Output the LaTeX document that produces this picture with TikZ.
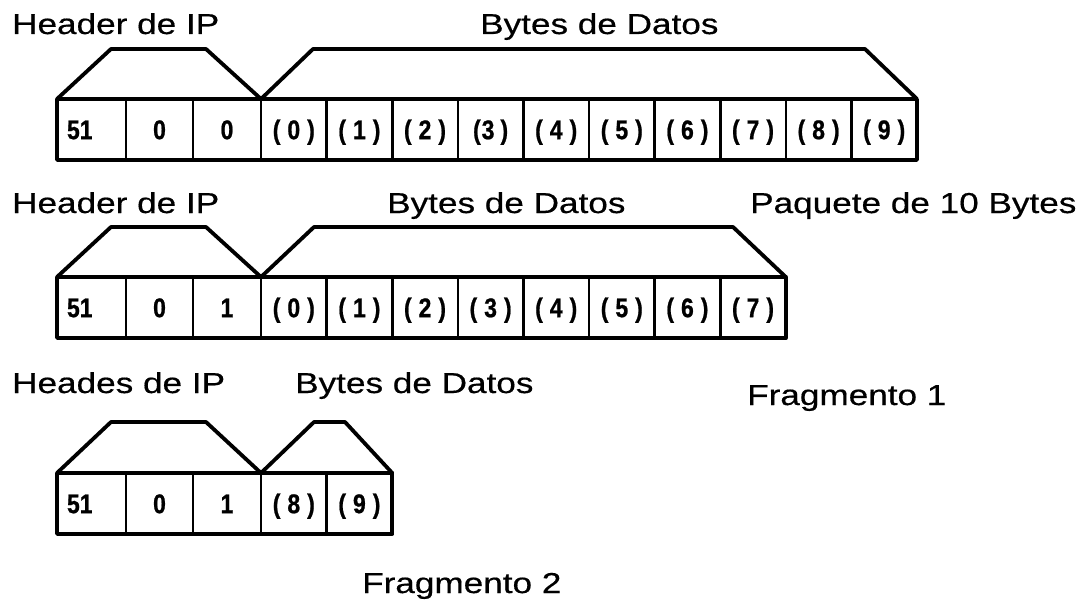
\documentclass[tikz,border=0pt]{standalone}
\usepackage{fontspec}
\setmainfont{Liberation Sans}
\newfontfamily\lblfont{Liberation Sans}[FakeStretch=1.22,FakeBold=0.5]
\newfontfamily\cellfont{Liberation Sans Bold}[FakeStretch=0.85,FakeBold=0.8]
\newcommand\celllab[1]{(\hspace{7pt}#1\hspace{7pt})}
\begin{document}
\begin{tikzpicture}[x=1pt,y=-1pt,
  cell/.style={draw, line width=2.6pt, inner sep=0pt, outer sep=0pt,
    minimum height=61pt, text height=19.3pt, text depth=0pt,
    font=\cellfont\fontsize{27}{27}\selectfont},
  firstcell/.style={cell, minimum width=69pt, text width=49pt, align=left},
  frame/.style={line width=3.8pt, line join=round},
  lbl/.style={anchor=base west, inner sep=0pt,
    font=\lblfont\fontsize{28.8}{30}\selectfont}]
\fill[white] (0,0) rectangle (1087,605);
\useasboundingbox (0,0) rectangle (1087,605);

% ---------- Row 1 ----------
\node[lbl] (t1a) at (12,34) {Header de IP};
\node[lbl] (t1b) at (480,34) {Bytes de Datos};
\node[firstcell] (r1h1) at (91.5,129.5) {51};
\node[cell, minimum width=67pt] (r1h2) at (159.5,129.5) {0};
\node[cell, minimum width=68pt] (r1h3) at (227,129.5) {0};
\foreach \k in {0,...,9}{
  \pgfmathsetmacro\cx{293.8+65.6*\k}
  \ifnum\k=3
    \node[cell, minimum width=65.6pt] (r1d\k) at (\cx,129.5) {(\hspace{1pt}3\hspace{6pt})\hspace{14pt}};
  \else
    \node[cell, minimum width=65.6pt] (r1d\k) at (\cx,129.5) {\celllab{\k}};
  \fi
}
\draw[frame] (r1h1.north west) rectangle (r1d9.south east);
\draw[frame] (r1h1.north west) -- (111,49) -- (206,49) -- (r1h3.north east)
  -- (313,49) -- (865,49) -- (r1d9.north east);

% ---------- Row 2 ----------
\node[lbl] (t2a) at (12,213) {Header de IP};
\node[lbl] (t2b) at (387,213) {Bytes de Datos};
\node[lbl] (t2c) at (750,213) {Paquete de 10 Bytes};
\node[firstcell] (r2h1) at (91.5,307.5) {51};
\node[cell, minimum width=67pt] (r2h2) at (159.5,307.5) {0};
\node[cell, minimum width=68pt] (r2h3) at (227,307.5) {1};
\foreach \k in {0,...,7}{
  \pgfmathsetmacro\cx{293.8+65.6*\k}
  \node[cell, minimum width=65.6pt] (r2d\k) at (\cx,307.5) {\celllab{\k}};
}
\draw[frame] (r2h1.north west) rectangle (r2d7.south east);
\draw[frame] (r2h1.north west) -- (111,227) -- (206,227) -- (r2h3.north east)
  -- (314,227) -- (733,227) -- (r2d7.north east);

% ---------- Row 3 ----------
\node[lbl] (t3a) at (12,393) {Heades de IP};
\node[lbl] (t3b) at (295,393) {Bytes de Datos};
\node[lbl] (t3c) at (747,405) {Fragmento 1};
\node[firstcell] (r3h1) at (91.5,503.5) {51};
\node[cell, minimum width=67pt] (r3h2) at (159.5,503.5) {0};
\node[cell, minimum width=68pt] (r3h3) at (227,503.5) {1};
\foreach \k in {8,9}{
  \pgfmathsetmacro\cx{293.8+65.6*(\k-8)}
  \node[cell, minimum width=65.6pt] (r3d\k) at (\cx,503.5) {\celllab{\k}};
}
\draw[frame] (r3h1.north west) rectangle (r3d9.south east);
\draw[frame] (r3h1.north west) -- (111,422) -- (206,422) -- (r3h3.north east)
  -- (314,422) -- (345,422) -- (r3d9.north east);

\node[lbl] (t4) at (362,593) {Fragmento 2};
\end{tikzpicture}
\end{document}
